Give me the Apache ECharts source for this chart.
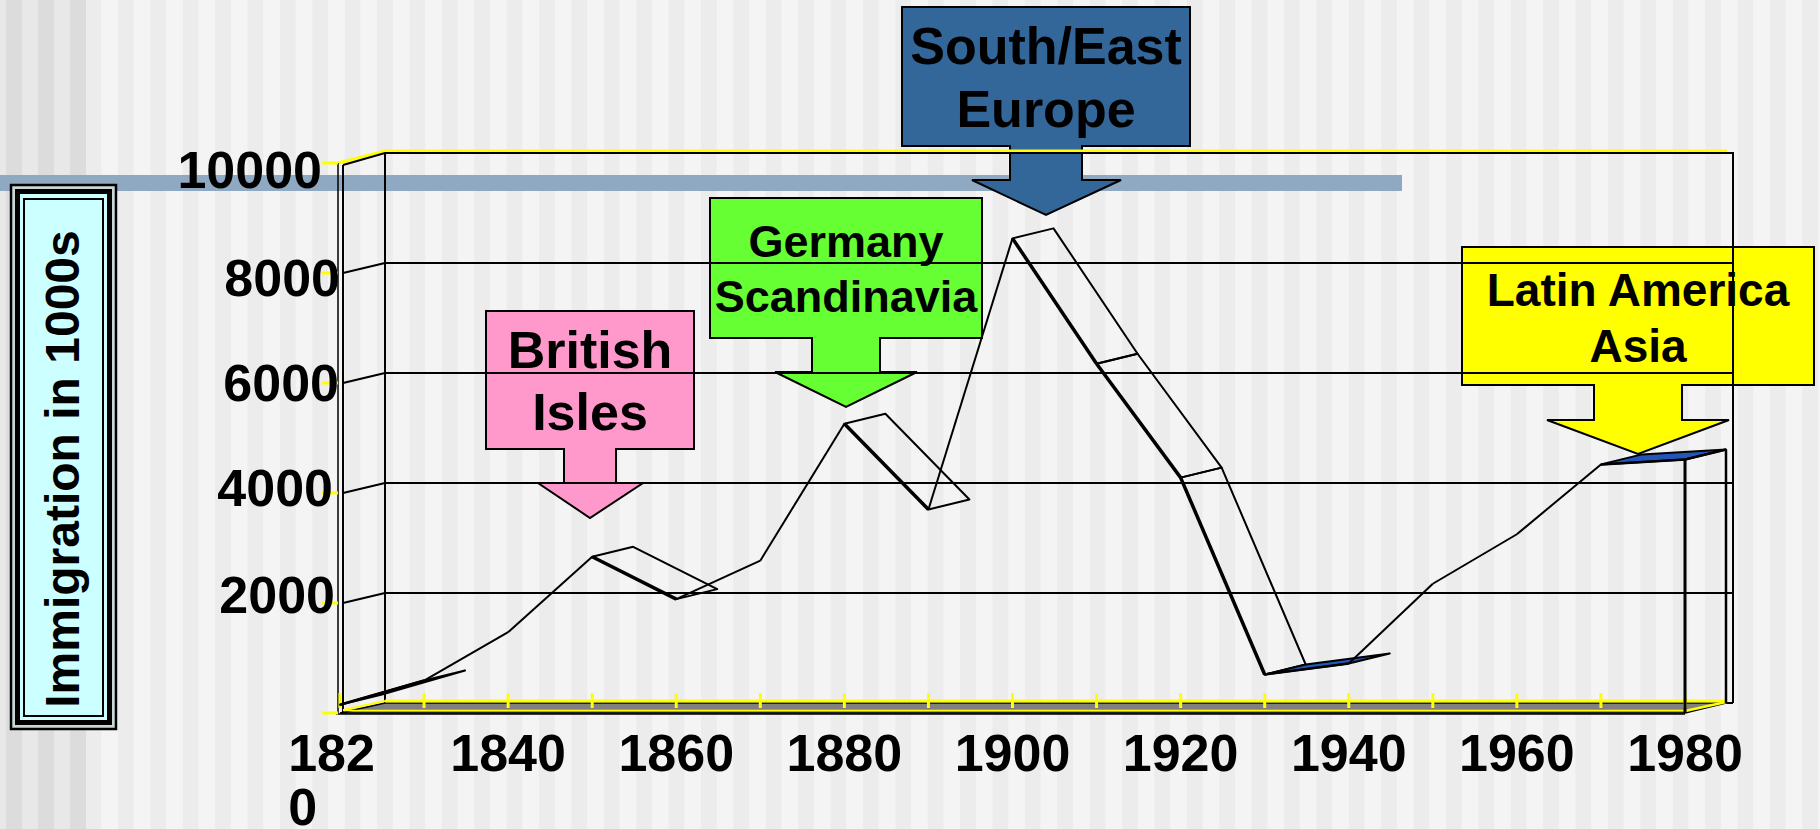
<!DOCTYPE html>
<html>
<head>
<meta charset="utf-8">
<script src="https://cdn.jsdelivr.net/npm/echarts@6/dist/echarts.min.js"></script>
<style>
html,body{margin:0;padding:0;}
body{width:1820px;height:829px;overflow:hidden;position:relative;
  background-color:#f4f4f4;
  background-image:linear-gradient(90deg,#ececec 0px,#ececec 16px,#f4f4f4 16px,#f4f4f4 32.4px);
  background-size:32.4px 100%;background-position:20.8px 0;}
#leftband{position:absolute;left:0;top:0;width:86px;height:829px;
  background-image:linear-gradient(90deg,#dcdcdc 0px,#dcdcdc 16px,#e8e8e8 16px,#e8e8e8 32px);
  background-size:32px 100%;background-position:6px 0;}
#chart{position:absolute;left:0;top:0;width:1820px;height:829px;}
</style>
</head>
<body>
<div id="leftband"></div>
<div id="chart"></div>
<script>
// ---------------- data ----------------
const decades = ['1820','1830','1840','1850','1860','1870','1880','1890','1900','1910','1920','1930','1940','1950','1960','1970','1980'];
const immigration = [150, 590, 1470, 2840, 2070, 2770, 5260, 3700, 8630, 6350, 4280, 700, 900, 2350, 3250, 4520, 4610];
const yGridValues = [2000, 4000, 6000, 8000];
const yTickValues = [0, 2000, 4000, 6000, 8000, 10000];
const yAxisTitle = 'Immigration in 1000s';
const calloutLabels = ['British\nIsles', 'Germany\nScandinavia', 'South/East\nEurope', 'Latin America\nAsia'];

// ---------------- layout / style ----------------
const FONT = '"Liberation Sans", Arial, Helvetica, sans-serif';
const WALL_DXL = 45, WALL_DXR = 48, WALL_DY = -10;   // depth of chart walls
const RIB_DX = 41, RIB_DY = -10;                     // depth of the 3D ribbon
const YELLOW = '#ffff00';
const RIBBON_BLUE = '#2456b8';

const CALLOUT_LAYOUT = [
  {box:[486,311,694,449], stem:[564,616], neck:483, wings:[538,643], tip:[590,518], fill:'#ff99cc', font:52, lh:62, cy:381},
  {box:[710,198,982,338], stem:[812,880], neck:372, wings:[775,917], tip:[846,407], fill:'#66ff33', font:45, lh:55, cy:269},
  {box:[902,7,1190,146], stem:[1010,1082], neck:180, wings:[972,1121], tip:[1046,215], fill:'#336699', font:52, lh:63, cy:77},
  {box:[1462,247,1814,385], stem:[1594,1682], neck:420, wings:[1547,1729], tip:[1638,454], fill:'#ffff00', font:46, lh:56, cy:318}
];

function calloutGraphics() {
  const els = [];
  CALLOUT_LAYOUT.forEach((c, k) => {
    const [L,T,R,B] = c.box, [sL,sR] = c.stem, [wL,wR] = c.wings, [tx,ty] = c.tip, n = c.neck;
    els.push({type:'polygon', z:1, silent:true,
      shape:{points:[[L,T],[R,T],[R,B],[sR,B],[sR,n],[wR,n],[tx,ty],[wL,n],[sL,n],[sL,B],[L,B]]},
      style:{fill:c.fill, stroke:'#000', lineWidth:2}});
    els.push({type:'text', z:1, silent:true, x:(L+R)/2, y:c.cy,
      style:{text:calloutLabels[k], fontFamily:FONT, fontSize:c.font, fontWeight:'bold', fill:'#000',
             align:'center', verticalAlign:'middle', lineHeight:c.lh}});
  });
  return els;
}

function titleBoxGraphics() {
  return [
    {type:'rect', z:1, silent:true, shape:{x:11, y:185, width:105, height:544}, style:{fill:'#c9d6d6', stroke:'#000', lineWidth:2.5}},
    {type:'rect', z:1, silent:true, shape:{x:17.5, y:191.5, width:92, height:531}, style:{fill:'#ccffff', stroke:'#000', lineWidth:5}},
    {type:'rect', z:1, silent:true, shape:{x:24, y:199, width:79, height:517}, style:{fill:'#ccffff', stroke:'#000', lineWidth:2}},
    {type:'text', z:1, silent:true, x:62, y:469, rotation:Math.PI/2,
      style:{text:yAxisTitle, fontFamily:FONT, fontSize:48, fontWeight:'bold', fill:'#000', align:'center', verticalAlign:'middle'}}
  ];
}

function ln(x1,y1,x2,y2,stroke,w){
  return {type:'line', silent:true, shape:{x1,y1,x2,y2}, style:{stroke, lineWidth:w, lineCap:'butt'}};
}

// walls, floor, gridlines, ticks — all placed through the axes' coordinate system
function renderFrame(params, api) {
  const n = decades.length;
  const P = (i, v) => api.coord([i, v]);
  const x0 = P(0,0)[0], x1 = P(n-1,0)[0];
  const yb = P(0,0)[1], yt = P(0,10000)[1];
  const bxL = x0 + WALL_DXL, bxR = x1 + WALL_DXR;
  const ribR = x1 + RIB_DX;
  const k = [];
  yGridValues.forEach(v => {
    const y = P(0, v)[1];
    k.push(ln(x0+3, y, bxL, y+WALL_DY, '#000', 2));
    k.push(ln(bxL, y+WALL_DY, bxR, y+WALL_DY, '#000', 2));
  });
  k.push({type:'polyline', silent:true, shape:{points:[[x0-2,yt],[bxL,yt+WALL_DY-2],[bxR-6,yt+WALL_DY-2]]}, style:{stroke:YELLOW, lineWidth:3, fill:null}});
  k.push({type:'polyline', silent:true, shape:{points:[[x0+3,yt+2],[bxL,yt+WALL_DY],[bxR,yt+WALL_DY],[bxR,yb+WALL_DY]]}, style:{stroke:'#000', lineWidth:2, fill:null}});
  k.push(ln(x0-2, yt, x0-2, yb, '#000', 1.5));
  k.push(ln(x0+3, yt+2, x0+3, yb, '#000', 2));
  k.push(ln(bxL, yt+WALL_DY, bxL, yb+WALL_DY, '#000', 2));
  k.push({type:'polygon', silent:true, shape:{points:[[x0,yb],[x1,yb],[ribR,yb+WALL_DY],[bxL,yb+WALL_DY]]}, style:{fill:'#808080', stroke:'#000', lineWidth:1.5}});
  k.push(ln(bxL, yb+WALL_DY-2, ribR, yb+WALL_DY-2, YELLOW, 3));
  k.push(ln(x0+3, yb-2.5, x1, yb-2.5, YELLOW, 1.5));
  k.push(ln(x0+3, yb-3, bxL, yb+WALL_DY-2, YELLOW, 2));
  k.push(ln(x1, yb-2, ribR, yb+WALL_DY-1, YELLOW, 2.5));
  k.push(ln(ribR, yb+WALL_DY, bxR, yb+WALL_DY, '#000', 2));
  k.push(ln(x0-4, yb+1, x1, yb+1, '#000', 1.5));
  for (let i = 0; i < n; i++) {
    const x = P(i, 0)[0];
    k.push(ln(x, yb-20, x, yb-5, YELLOW, 3));
  }
  yTickValues.forEach(v => {
    const y = P(0, v)[1];
    k.push(ln(x0-18, y, x0-2, y, YELLOW, 3));
  });
  return {type:'group', children:k};
}

// 3D ribbon drawn segment by segment from the data
function renderRibbon(params, api) {
  const i = params.dataIndex, n = immigration.length;
  const F0 = api.coord([i, api.value(1)]);
  const k = [];
  if (i < n - 1) {
    const F1 = api.coord([i+1, immigration[i+1]]);
    const B0 = [F0[0]+RIB_DX, F0[1]+RIB_DY], B1 = [F1[0]+RIB_DX, F1[1]+RIB_DY];
    const rise = (F0[1]-F1[1]) / (F1[0]-F0[0]);
    if (rise < 0) {
      k.push({type:'polygon', silent:true, shape:{points:[F0,F1,B1,B0]}, style:{fill:null, stroke:'#000', lineWidth:2, lineJoin:'round'}});
      k.push(ln(F0[0],F0[1],F1[0],F1[1],'#000',3.5));
    } else if (rise < 0.3) {
      k.push({type:'polygon', silent:true, shape:{points:[F0,F1,B1,B0]}, style:{fill:RIBBON_BLUE, stroke:'#000', lineWidth:2, lineJoin:'round'}});
      k.push(ln(F0[0],F0[1],F1[0],F1[1],'#000',2.5));
    } else {
      k.push(ln(F0[0],F0[1],F1[0],F1[1],'#000',2));
    }
  } else {
    const base = api.coord([i, 0]);
    k.push(ln(F0[0], F0[1], F0[0], base[1], '#000', 3));
    k.push(ln(F0[0]+RIB_DX, F0[1]+RIB_DY, F0[0]+RIB_DX, base[1]+RIB_DY, '#000', 2.5));
    k.push(ln(F0[0], F0[1], F0[0]+RIB_DX, F0[1]+RIB_DY, '#000', 2.5));
  }
  return {type:'group', children:k};
}

const yRich = {
  y10000:{padding:[14,18,0,0]},
  y8000:{padding:[10,0,0,0]},
  y6000:{padding:[0,1,0,0]},
  y4000:{padding:[0,7,11,0]},
  y2000:{padding:[0,5,16,0]}
};
Object.values(yRich).forEach(s => Object.assign(s, {fontFamily:FONT, fontSize:52, fontWeight:'bold', color:'#000'}));

const chart = echarts.init(document.getElementById('chart'), null, {renderer:'svg'});
chart.setOption({
  animation:false,
  backgroundColor:'transparent',
  grid:{left:340, top:163, width:1345, height:550, containLabel:false, outerBoundsMode:'none'},
  xAxis:{
    type:'category', data:decades, boundaryGap:false,
    axisLine:{show:false}, axisTick:{show:false}, splitLine:{show:false},
    axisLabel:{
      interval:1, margin:9, color:'#000', fontFamily:FONT, fontSize:52, fontWeight:'bold', lineHeight:61,
      formatter:(val, idx) => idx === 0 ? '{a|' + val.slice(0,3) + '}\n{b|' + val.slice(3) + '}' : val,
      rich:{
        a:{fontFamily:FONT, fontSize:52, fontWeight:'bold', color:'#000', lineHeight:61, padding:[0,17,0,0]},
        b:{fontFamily:FONT, fontSize:52, fontWeight:'bold', color:'#000', lineHeight:48, align:'left'}
      }
    }
  },
  yAxis:{
    type:'value', min:0, max:10000, interval:2000, z:3,
    axisLine:{show:false}, axisTick:{show:false}, splitLine:{show:false},
    axisLabel:{margin:0, formatter:v => v === 0 ? '' : '{y' + v + '|' + v + '}', rich:yRich}
  },
  graphic:[
    {type:'rect', z:0, silent:true, shape:{x:0, y:175, width:1402, height:16}, style:{fill:'#8fa9c3'}},
    ...titleBoxGraphics(),
    ...calloutGraphics()
  ],
  series:[
    {type:'custom', name:'frame', z:3, clip:false, silent:true, data:[[0, 0]], renderItem:renderFrame},
    {type:'custom', name:'Immigration', z:4, clip:false, silent:true,
     data:immigration.map((v,i) => [decades[i], v]), encode:{x:0, y:1}, renderItem:renderRibbon}
  ]
});
</script>
</body>
</html>
